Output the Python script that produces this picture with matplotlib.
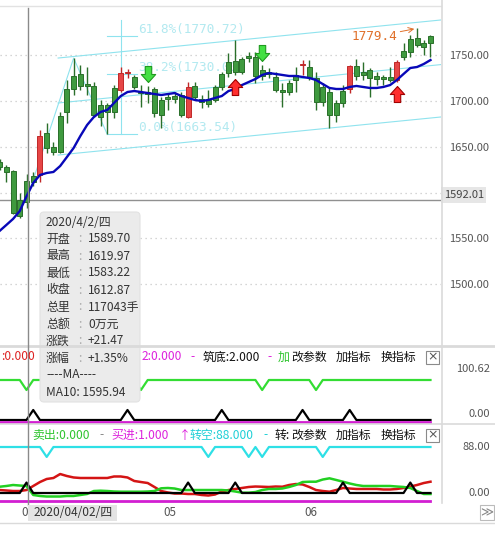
import matplotlib
matplotlib.use('Agg')
import matplotlib.pyplot as plt
import numpy as np
from matplotlib.path import Path
from matplotlib.patches import FancyBboxPatch, Rectangle

plt.rcParams['font.family'] = ['Noto Sans CJK SC', 'DejaVu Sans']

# daily candles on screen, index 4 is 2020/4/2 (the cursor day)
opens = [1628.0, 1622.6, 1577.8, 1574.5, 1589.70, 1611.7, 1661.9, 1648.8, 1644.4, 1644.4,
         1688.1, 1713.2, 1716.5, 1716.5, 1684.8, 1682.6, 1688.1, 1688.1, 1730.6, 1730.6,
         1715.4, 1708.8, 1707.7, 1687.0, 1684.8, 1702.3, 1702.3, 1684.8, 1715.4, 1704.4,
         1699.0, 1696.8, 1701.2, 1715.4, 1730.6, 1731.7, 1731.7, 1747.0, 1727.4, 1727.4,
         1729.6, 1712.1, 1709.9, 1709.9, 1723.0, 1739.4, 1726.3, 1699.0, 1699.0, 1684.8,
         1684.8, 1697.9, 1738.3, 1727.4, 1728.5, 1725.2, 1724.1, 1724.1, 1723.0, 1742.7,
         1748.1, 1753.6, 1761.2, 1759.0, 1763.4]
highs = [1636.8, 1630.2, 1624.8, 1599.6, 1619.97, 1622.6, 1668.4, 1676.1, 1655.3, 1688.1,
         1723.0, 1747.0, 1739.4, 1737.2, 1720.8, 1701.2, 1697.9, 1717.5, 1737.2, 1735.0,
         1728.5, 1717.5, 1716.5, 1715.4, 1704.4, 1708.8, 1709.9, 1709.9, 1720.8, 1720.8,
         1706.6, 1712.1, 1717.5, 1731.7, 1752.5, 1766.7, 1748.1, 1753.6, 1753.6, 1739.4,
         1736.1, 1731.7, 1719.7, 1723.0, 1737.2, 1744.8, 1744.8, 1731.7, 1719.7, 1714.3,
         1701.2, 1717.5, 1739.4, 1745.9, 1742.7, 1736.1, 1731.7, 1728.5, 1737.2, 1744.8,
         1763.4, 1772.1, 1779.4, 1766.7, 1772.1]
lows = [1624.8, 1611.7, 1576.7, 1572.4, 1583.22, 1607.3, 1611.7, 1643.3, 1641.1, 1643.3,
        1676.1, 1706.6, 1712.1, 1706.6, 1682.6, 1672.8, 1663.54, 1681.5, 1709.9, 1725.2,
        1713.2, 1693.5, 1697.9, 1682.6, 1670.6, 1690.3, 1697.9, 1682.6, 1681.5, 1701.2,
        1692.4, 1693.5, 1699.0, 1712.1, 1726.3, 1728.5, 1729.6, 1742.7, 1719.7, 1723.0,
        1725.2, 1709.9, 1693.5, 1706.6, 1709.9, 1728.5, 1723.0, 1690.3, 1694.6, 1670.6,
        1677.2, 1693.5, 1708.8, 1723.0, 1723.0, 1704.4, 1717.5, 1717.5, 1720.8, 1720.8,
        1744.8, 1748.1, 1759.0, 1750.3, 1748.1]
closes = [1633.5, 1628.0, 1623.7, 1592.0, 1612.87, 1618.2, 1619.3, 1665.1, 1649.9, 1683.7,
          1713.2, 1727.4, 1729.6, 1718.6, 1716.5, 1695.7, 1695.7, 1714.3, 1712.1, 1730.6,
          1726.3, 1709.9, 1709.9, 1713.2, 1701.2, 1704.4, 1705.5, 1706.6, 1682.6, 1716.5,
          1702.3, 1701.2, 1715.4, 1729.6, 1742.7, 1743.7, 1745.9, 1749.2, 1748.1, 1733.9,
          1731.7, 1726.3, 1712.1, 1719.7, 1728.5, 1739.4, 1737.2, 1725.2, 1715.4, 1709.9,
          1697.9, 1711.0, 1713.2, 1738.3, 1731.7, 1733.9, 1727.4, 1726.3, 1726.3, 1723.0,
          1754.7, 1767.8, 1768.9, 1763.4, 1771.0]
ma10 = [1558.2, 1564.7, 1571.3, 1580.0, 1595.94, 1610.6, 1619.3, 1621.5, 1622.6, 1629.1,
        1638.9, 1648.8, 1661.9, 1673.9, 1682.6, 1688.1, 1690.3, 1697.9, 1705.5, 1709.9,
        1711.0, 1709.9, 1708.8, 1707.7, 1706.6, 1707.7, 1708.8, 1705.5, 1703.4, 1701.2,
        1700.1, 1701.2, 1703.4, 1705.5, 1711.0, 1713.2, 1717.5, 1720.8, 1724.1, 1728.5,
        1730.6, 1729.6, 1728.5, 1727.4, 1727.4, 1726.3, 1725.2, 1723.0, 1718.6, 1714.3,
        1713.2, 1713.2, 1715.4, 1716.5, 1715.4, 1714.3, 1714.3, 1715.4, 1717.5, 1723.0,
        1729.6, 1736.1, 1737.2, 1740.5, 1744.8]

# indicator panel 1
p1_green = [80, 80, 80, 80, 60, 80, 80, 80, 80, 80, 80, 80, 80, 80, 80, 80, 80, 80, 80, 80,
            80, 60, 80, 80, 80, 80, 80, 80, 80, 80, 80, 80, 80, 80, 80, 80, 80, 80, 80, 60,
            80, 80, 80, 80, 80, 80, 80, 60, 80, 80, 80, 80, 80, 80, 80, 80, 80, 80, 80, 80,
            80, 80, 80, 80, 80]
p1_black = [0, 0, 0, 0, 0, 20, 0, 0, 0, 0, 0, 0, 0, 0, 0, 0, 0, 0, 0, 20,
            0, 0, 0, 0, 0, 0, 0, 0, 0, 0, 0, 0, 0, 20, 0, 0, 0, 0, 0, 0,
            0, 0, 0, 0, 0, 20, 0, 0, 0, 0, 0, 0, 20, 0, 0, 0, 0, 0, 0, 0,
            0, 0, 0, 0, 0]

# indicator panel 2
p2_cyan = [88, 88, 88, 88, 88, 88, 88, 69, 88, 88, 88, 88, 88, 88, 88, 88, 88, 88, 88, 88,
           88, 88, 88, 88, 88, 88, 88, 88, 88, 88, 88, 69, 88, 88, 88, 88, 88, 69, 88, 69,
           88, 88, 88, 88, 88, 88, 88, 88, 69, 88, 88, 88, 88, 88, 88, 88, 88, 88, 88, 88,
           88, 88, 88, 88, 88]
p2_black = [0, 0, 0, 0, 20, 0, 0, 0, 0, 0, 0, 0, 0, 0, 0, 0, 0, 0, 0, 0,
            0, 0, 0, 0, 0, 0, 0, 0, 20, 0, 0, 0, 0, 0, 0, 20, 0, 0, 0, 0,
            0, 0, 0, 0, 0, 0, 0, 0, 0, 0, 0, 20, 0, 0, 0, 0, 0, 0, 0, 0,
            0, 20, 0, 0, 0]
p2_red = [5.7, 4.8, 3.8, 3.8, 5.7, 13.4, 21.0, 26.8, 28.7, 36.3,
          32.5, 29.7, 28.7, 28.7, 28.7, 28.7, 28.7, 31.6, 31.6, 29.7,
          23.0, 21.0, 19.1, 11.5, 3.8, 1.0, -1.0, -1.0, -1.9, -1.9,
          -3.8, -4.8, -2.9, 2.9, 5.7, 7.7, 9.6, 11.5, 12.4, 12.0,
          11.5, 12.4, 12.0, 15.3, 17.2, 16.3, 11.5, 5.7, 3.8, 2.5,
          5.7, 9.6, 8.6, 7.7, 7.7, 7.7, 7.7, 6.7, 6.7, 7.7,
          9.6, 12.4, 15.3, 19.1, 21.6]
p2_green = [12.0, 13.4, 15.3, 14.3, 13.4, -3.8, -5.7, -6.7, -6.7, -6.7,
            -5.7, -5.7, -3.8, -1.9, 3.8, 4.4, 3.8, 2.9, 2.5, 2.5,
            2.5, 2.5, 2.9, 3.8, 9.0, 9.6, 8.6, 5.7, 5.7, 5.7,
            5.7, 5.7, 5.7, 5.7, 4.8, 2.9, 0.6, 0.6, 1.9, 5.7,
            7.7, 7.7, 8.6, 11.5, 15.3, 21.0, 21.6, 21.6, 25.8, 28.1,
            24.9, 21.6, 18.2, 15.3, 13.4, 13.4, 13.4, 13.4, 13.4, 12.4,
            11.5, 9.6, 3.8, -1.9, -1.9]

sell_marks = [22, 39]
buy_marks = [35, 59]

price_ticks = [1500, 1550, 1650, 1700, 1750]
grid_levels = [1500, 1550, 1600, 1650, 1700, 1750]
cursor_idx = 4
cursor_price = 1592.01
month_labels = ['04', '05', '06']
month_starts = [3, 24, 45]

# hand-drawn line study (golden section + channel)
fib_labels = ['0.0%(1663.54)', '38.2%(1730.00)', '61.8%(1770.72)']
fib_prices = [1663.54, 1730.00, 1770.72]
zigzag_x = [4, 11, 16]
zigzag_y = [1592.0, 1747.0, 1663.54]
channel_x = [8.7, 65.5]
channel_top = [1747.0, 1788.5]
channel_mid = [1697.9, 1739.8]
channel_low = [1641.1, 1682.6]

tip_date = '2020/4/2/四'
tip_volume = '117043手'
tip_amount = '0万元'
tip_change = '+21.47'
tip_pct = '+1.35%'

W, H = 495, 535
fig = plt.figure(figsize=(W / 100, H / 100), dpi=100)


def frame(x0, y0, x1, y1):
    return [x0 / W, 1 - y1 / H, (x1 - x0) / W, (y1 - y0) / H]


XLIM = (0.064, 65.56)
n = len(opens)
xs = np.arange(n)
o = np.array(opens)
c = np.array(closes)
up = c > o
GREEN_F, GREEN_E = '#3f9a3f', '#2a6f2a'
RED_F, RED_E = '#e64646', '#c02828'

# ---- main price panel ----
ax = fig.add_axes(frame(0, 6, 441, 345))
ax.set_xlim(*XLIM)
ax.set_ylim(1433.7, 1803.8)
for lv in grid_levels:
    ax.axhline(lv, color='#c8c8c8', lw=0.9, ls=(0, (1, 3)), zorder=0)

# line study
lc = '#8fe3ee'
ax.plot(zigzag_x, zigzag_y, color=lc, lw=0.8, zorder=1)
for yy in (channel_top, channel_mid, channel_low):
    ax.plot(channel_x, yy, color=lc, lw=0.8, zorder=1)
for lab, pr in zip(fib_labels, fib_prices):
    ax.plot([16, 20.4], [pr, pr], color=lc, lw=0.8, zorder=1)
    ax.text(20.6, pr, lab, color='#b2e9f0', fontsize=9.2, family='DejaVu Sans Mono',
            ha='left', va='bottom', zorder=1)
ax.plot([18.04, 18.04], [1788.5, 1663.54], color=lc, lw=0.8, zorder=1)

# candles
body_lo = np.minimum(o, c)
body_h = np.maximum(np.abs(c - o), 0.7)
ax.vlines(xs, lows, highs, colors=np.where(up, GREEN_E, RED_E), lw=1, zorder=3)
ax.bar(xs, body_h, bottom=body_lo, width=0.74, color=np.where(up, GREEN_F, RED_F),
       edgecolor=np.where(up, GREEN_E, RED_E), lw=0.7, zorder=3)
ax.plot(xs, ma10, color='#0808b8', lw=1.7, zorder=4)

# buy / sell arrows
down_arrow = Path([(0, 0.25), (-0.45, 0.75), (-0.2, 0.75), (-0.2, 1.25), (0.2, 1.25),
                   (0.2, 0.75), (0.45, 0.75), (0, 0.25)])
up_arrow = Path([(x, -y) for x, y in down_arrow.vertices])
ax.plot(sell_marks, [highs[i] for i in sell_marks], ls='none', marker=down_arrow, ms=28.8,
        mfc='#44e044', mec='#1f9a1f', mew=0.8, zorder=5)
ax.plot(buy_marks, [lows[i] for i in buy_marks], ls='none', marker=up_arrow, ms=28.8,
        mfc='#ff2e2e', mec='#a00000', mew=0.8, zorder=5)

top = int(np.argmax(highs))
ax.annotate(f'{highs[top]:.1f}', xy=(top, highs[top]), xytext=(-47, -6),
            textcoords='offset points', ha='left', va='center', color='#e0702a',
            fontsize=9.2, family='DejaVu Sans Mono',
            arrowprops=dict(arrowstyle='->', color='#e0702a', lw=0.7, shrinkA=0, shrinkB=2))

ax.axhline(cursor_price, color='#909090', lw=1, zorder=2)
ax.text(1.006, cursor_price, f'{cursor_price:.2f}', transform=ax.get_yaxis_transform(),
        ha='left', va='bottom', fontsize=8, color='#444',
        bbox=dict(fc='#e6e6e6', ec='none', pad=1.8))

ax.yaxis.tick_right()
ax.set_yticks(price_ticks)
ax.set_yticklabels([f'{v:.2f}' for v in price_ticks])
ax.tick_params(axis='y', length=0, pad=6, labelsize=8, labelcolor='#555')
ax.set_xticks([])
for s in ax.spines.values():
    s.set_visible(False)

# ---- indicator panel 1 ----
ax1 = fig.add_axes(frame(0, 365, 441, 422))
ax1.set_xlim(*XLIM)
ax1.set_ylim(-4, 110)
ax1.plot(xs, p1_green, color='#33dd33', lw=1.6)
ax1.plot(xs, p1_black, color='#000000', lw=1.6)
# ---- indicator panel 2 ----
ax2 = fig.add_axes(frame(0, 440, 441, 501))
ax2.set_xlim(*XLIM)
ax2.set_ylim(-15.3, 101.4)
ax2.plot(xs, p2_cyan, color='#2ee0e6', lw=1.6)
ax2.plot(xs, p2_red, color='#d41414', lw=1.8)
ax2.plot(xs, p2_green, color='#22d022', lw=1.8)
ax2.plot(xs, p2_black, color='#000000', lw=1.6)
for a in (ax1, ax2):
    a.set_xticks([])
    a.set_yticks([])
    a.patch.set_alpha(0)
    for k, s in a.spines.items():
        s.set_visible(k == 'bottom')
    a.spines['bottom'].set_color('#d21ed2')
    a.spines['bottom'].set_linewidth(2)
    a.spines['bottom'].set_bounds(0, n - 1)

# ---- screen chrome (pixel coordinates) ----
ui = fig.add_axes([0, 0, 1, 1], zorder=5)
ui.set_xlim(0, W)
ui.set_ylim(H, 0)
ui.axis('off')
ui.patch.set_alpha(0)

sep = '#dadada'
ui.plot([0, 441], [6, 6], color='#e2e2e2', lw=1)
ui.plot([441.5, 441.5], [0, 503], color=sep, lw=1.2)
ui.plot([0, W], [345.5, 345.5], color=sep, lw=2)
ui.plot([0, W], [424, 424], color=sep, lw=1.2)
ui.plot([0, W], [523, 523], color=sep, lw=1)
ui.plot([28, 28], [8, 505], color='#8a8a8a', lw=1)

fs = 8.6
for y, lab in [(369, '100.62'), (414, '0.00'), (447, '88.00'), (493, '0.00')]:
    ui.text(490, y, lab, ha='right', va='center', fontsize=8, color='#555')

MAG, RED, CYA, GRN = '#dd22dd', '#dd2222', '#1fcfd6', '#2ec42e'
head1 = [(1, ':0.000', RED), (142, '2:0.000', MAG), (190, '-', MAG), (203, '筑底:2.000', '#111'),
         (267, '-', MAG), (278, '加', GRN)]
head2 = [(32, '卖出:0.000', GRN), (99, '-', '#888'), (111, '买进:1.000', MAG), (179, '↑', MAG),
         (190, '转空:88.000', CYA), (263, '-', CYA), (275, '转:', '#111')]
for yy, head in [(357, head1), (435, head2)]:
    for x0, t, col in head:
        ui.text(x0, yy, t, ha='left', va='center', fontsize=fs, color=col)
    ui.text(291, yy, '改参数', ha='left', va='center', fontsize=fs, color='#111')
    ui.text(336, yy, '加指标', ha='left', va='center', fontsize=fs, color='#111')
    ui.text(381, yy, '换指标', ha='left', va='center', fontsize=fs, color='#111')
    ui.add_patch(Rectangle((426, yy - 6.5), 13, 13, fc='white', ec='#8a8a8a', lw=0.8))
    ui.text(432.5, yy, '×', ha='center', va='center', fontsize=9, color='#555',
            family='DejaVu Sans')

# tooltip
ui.add_patch(FancyBboxPatch((40, 212), 100, 190, boxstyle='round,pad=0,rounding_size=4',
                            fc='#ebebeb', ec='#e2e2e2', lw=0.8))
tc = '#333'
ui.text(46, 222, tip_date, ha='left', va='center', fontsize=fs, color=tc)
rows = [('开盘', f'{opens[cursor_idx]:.2f}'), ('最高', f'{highs[cursor_idx]:.2f}'),
        ('最低', f'{lows[cursor_idx]:.2f}'), ('收盘', f'{closes[cursor_idx]:.2f}'),
        ('总里', tip_volume), ('总额', tip_amount), ('涨跌', tip_change), ('涨幅', tip_pct)]
for k, (lab, val) in enumerate(rows):
    yy = 239 + 17 * k
    ui.text(46, yy, lab, ha='left', va='center', fontsize=fs, color=tc)
    ui.text(78, yy, ':', ha='left', va='center', fontsize=fs, color='#aaa')
    ui.text(88, yy, val, ha='left', va='center', fontsize=fs, color=tc)
ui.text(46, 375, '----MA----', ha='left', va='center', fontsize=fs, color=tc)
ui.text(46, 392, f'MA10: {ma10[cursor_idx]:.2f}', ha='left', va='center', fontsize=fs, color=tc)

# time axis row
for lab, i in zip(month_labels, month_starts):
    px = -0.43 + 6.733 * i + 2
    ui.text(px, 513, lab, ha='left', va='center', fontsize=8.4, color='#555')
ui.add_patch(Rectangle((28, 505), 89, 16, fc='#e4e4e4', ec='none', zorder=3))
ui.text(73, 513, '2020/04/02/四', ha='center', va='center', fontsize=fs, color='#333', zorder=4)
ui.add_patch(Rectangle((480, 505), 14, 15, fc='white', ec='#bbbbbb', lw=0.8))
ui.text(487, 512.5, '≫', ha='center', va='center', fontsize=9, color='#888', family='DejaVu Sans')

fig.savefig('out.png', dpi=100)
